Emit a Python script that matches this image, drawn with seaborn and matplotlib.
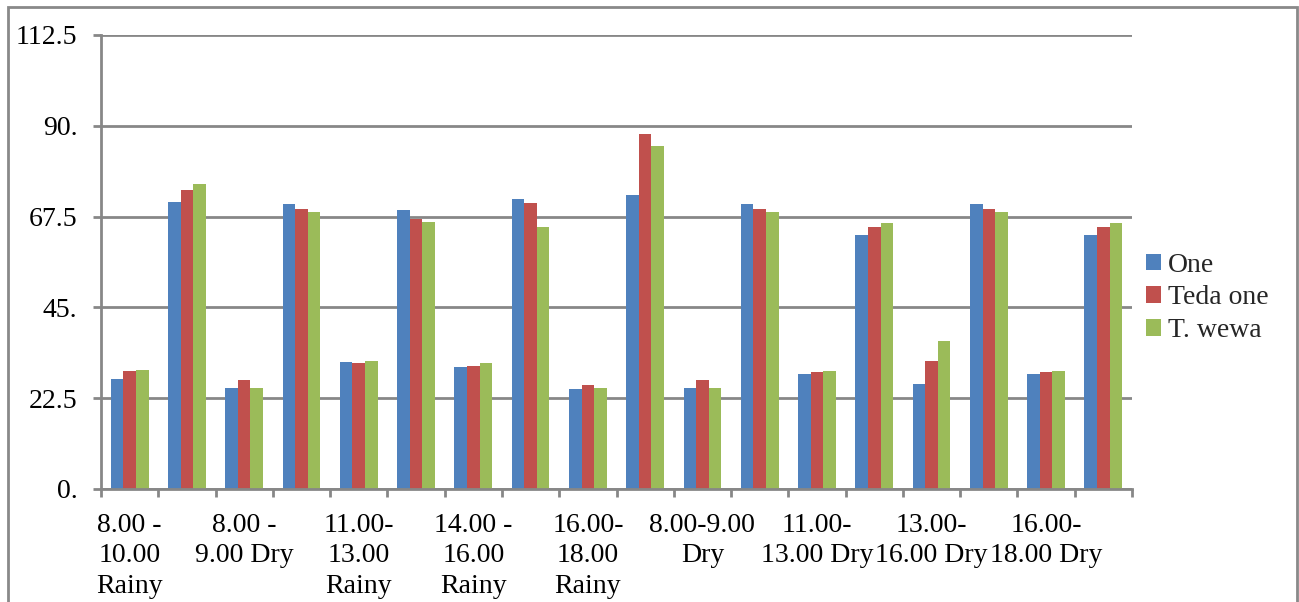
import matplotlib
matplotlib.use("Agg")
import matplotlib.pyplot as plt
import seaborn as sns
import pandas as pd
import numpy as np
from matplotlib.patches import Rectangle

# ---- data ----
tick_labels = [
    "8.00 -\n10.00\nRainy", "",
    "8.00 -\n9.00 Dry", "",
    "11.00-\n13.00\nRainy", "",
    "14.00 -\n16.00\nRainy", "",
    "16.00-\n18.00\nRainy", "",
    "8.00-9.00\nDry", "",
    "11.00-\n13.00 Dry", "",
    "13.00-\n16.00 Dry", "",
    "16.00-\n18.00 Dry", "",
]
series = ["One", "Teda one", "T. wewa"]
one      = [27.3, 71.0, 25.0, 70.5, 31.5, 69.2, 30.3, 71.9, 24.7, 72.8, 25.0, 70.5, 28.6, 62.9, 26.1, 70.5, 28.6, 62.9]
teda_one = [29.2, 74.0, 27.0, 69.3, 31.1, 66.9, 30.4, 70.9, 25.8, 88.0, 27.0, 69.3, 29.0, 64.8, 31.6, 69.3, 29.0, 64.8]
t_wewa   = [29.6, 75.6, 25.0, 68.6, 31.8, 66.2, 31.1, 64.8, 25.0, 85.0, 25.0, 68.6, 29.2, 65.9, 36.6, 68.6, 29.2, 65.9]
y_ticks = [0, 22.5, 45, 67.5, 90, 112.5]
y_tick_labels = ["0.", "22.5", "45.", "67.5", "90.", "112.5"]

colors = ["#4F81BD", "#C0504D", "#9BBB59"]
grid_col = "#878787"

sns.set_theme(style="white")
plt.rcParams['font.family'] = ['Liberation Serif', 'DejaVu Serif']
FS = 20

n = len(one)
df = pd.DataFrame({
    "group": np.tile(np.arange(n), 3),
    "series": np.repeat(series, n),
    "value": one + teda_one + t_wewa,
})

fig = plt.figure(figsize=(12.99, 6.02), dpi=100)
ax = fig.add_axes([101/1299, 1-489/602, (1132-101)/1299, (489-35)/602])

sns.barplot(data=df, x="group", y="value", hue="series", hue_order=series,
            palette=colors, width=0.66, saturation=1, ax=ax, linewidth=0,
            errorbar=None)

ax.set_xlim(-0.5, n - 0.5)
ax.set_ylim(0, 112.5)
ax.set_yticks(y_ticks)
ax.set_yticklabels(y_tick_labels, fontsize=FS, color="black")
ax.set_xticks(np.arange(n))
ax.set_xticklabels(tick_labels, fontsize=FS, color="black", linespacing=1.3,
                   multialignment="center")
ax.set_xticks(np.arange(-0.5, n, 1), minor=True)
ax.tick_params(axis="x", which="major", length=0, pad=17)
ax.tick_params(axis="x", which="minor", length=6, width=2, color=grid_col, direction="out", bottom=True)
ax.tick_params(axis="y", which="major", length=6, width=2, color=grid_col, direction="out", pad=11, left=True)
ax.set_xlabel("")
ax.set_ylabel("")

ax.yaxis.grid(True, color=grid_col, linewidth=2)
ax.xaxis.grid(False)
ax.set_axisbelow(True)
for s in ["top", "right"]:
    ax.spines[s].set_visible(False)
for s in ["left", "bottom"]:
    ax.spines[s].set_color(grid_col)
    ax.spines[s].set_linewidth(2)

handles, labels = ax.get_legend_handles_labels()
ax.legend(handles, labels, loc="center left", bbox_to_anchor=(1146/1299, 1-298/602),
          bbox_transform=fig.transFigure, frameon=False, fontsize=FS,
          handlelength=0.55, handleheight=0.55, handletextpad=0.25,
          labelspacing=0.28, borderpad=0, borderaxespad=0)

fig.patches.append(Rectangle((8/1299, -0.05), (1297-8)/1299, 1-7/602+0.05,
                             transform=fig.transFigure, fill=False,
                             edgecolor="#898989", linewidth=2, clip_on=False))

fig.savefig("out.png", dpi=100)
